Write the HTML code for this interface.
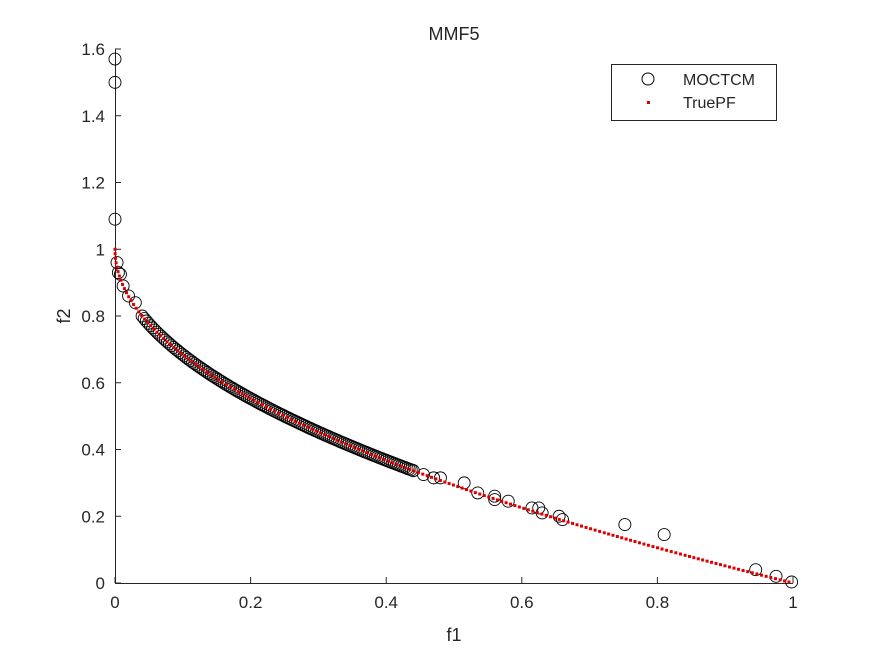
<!DOCTYPE html>
<html><head><style>
body{margin:0;background:#fff}
svg text{font-family:"Liberation Sans",sans-serif;fill:#262626}
</style></head><body>
<svg id="s" width="875" height="656" xmlns="http://www.w3.org/2000/svg">
<rect width="875" height="656" fill="#fff"/>
<g id="ax" stroke="#262626" stroke-width="1" fill="none">
<line x1="115" y1="583.5" x2="793" y2="583.5"/>
<line x1="115.5" y1="49" x2="115.5" y2="583"/>
</g>
<g id="pts"></g>
<text x="454" y="40" font-size="18" text-anchor="middle">MMF5</text>
<text x="454" y="641" font-size="18" text-anchor="middle">f1</text>
<text x="70" y="316" font-size="18" text-anchor="middle" transform="rotate(-90 70 316)">f2</text>
<rect x="611.5" y="64.5" width="165" height="56" fill="#fff" stroke="#262626"/>
<circle cx="648" cy="79" r="6" fill="none" stroke="#000"/>
<text x="683" y="85" font-size="16">MOCTCM</text>
<rect x="647" y="101" width="3" height="3" fill="#d00"/>
<text x="683" y="108" font-size="16">TruePF</text>
</svg>
<script>
const X=f=>115+f*678, Y=v=>583-v*333.75;
let ax=document.getElementById('ax'),s='',t='';
for(let i=0;i<=5;i++){let x=X(i*0.2);s+=`<line x1="${x}" y1="583" x2="${x}" y2="577"/>`;
t+=`<text x="${x}" y="608" font-size="17" text-anchor="middle" stroke="none">${i==0?'0':i==5?'1':(i*0.2).toFixed(1)}</text>`;}
for(let i=0;i<=8;i++){let y=Y(i*0.2);s+=`<line x1="115" y1="${y}" x2="121" y2="${y}"/>`;
let l=i==0?'0':i==5?'1':(i*0.2).toFixed(1);
t+=`<text x="105" y="${y+6}" font-size="17" text-anchor="end" stroke="none">${l}</text>`;}
ax.innerHTML+=s;
let p='';
let circ=[[0,1.57],[0,1.5],[0,1.09],[0.003,0.96],[0.005,0.93],[0.008,0.925],[0.012,0.89],[0.02,0.86],[0.03,0.84],[0.455,0.325],[0.47,0.315],[0.48,0.315],[0.515,0.3],[0.535,0.27],[0.56,0.26],[0.56,0.25],[0.58,0.245],[0.615,0.225],[0.625,0.225],[0.63,0.21],[0.655,0.2],[0.66,0.19],[0.752,0.175],[0.81,0.145],[0.945,0.04],[0.975,0.02],[0.998,0.003]];
for(let i=0;i<130;i++){let x=0.04+0.40*(i/129);circ.push([x,1-Math.sqrt(x)]);}
for(const [a,b] of circ)p+=`<circle cx="${X(a)}" cy="${Y(b)}" r="6" fill="none" stroke="#000" stroke-width="0.9"/>`;
let pts=[];for(let i=0;i<=4000;i++){let u=i/4000,x=u*u;pts.push([X(x),Y(1-u)]);}
let acc=0,last=pts[0];p+=`<rect x="${last[0]-1.5}" y="${last[1]-1.5}" width="3" height="3" fill="#d00"/>`;
for(let i=1;i<pts.length;i++){acc+=Math.hypot(pts[i][0]-pts[i-1][0],pts[i][1]-pts[i-1][1]);if(acc>=4.5){acc=0;p+=`<rect x="${pts[i][0]-1.5}" y="${pts[i][1]-1.5}" width="3" height="3" fill="#d00"/>`;}}
document.getElementById('pts').innerHTML=p;
document.getElementById('s').innerHTML+=t;
</script>
</body></html>
